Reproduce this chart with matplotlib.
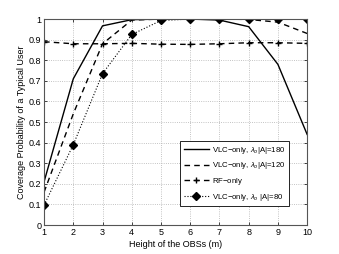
import numpy as np
import matplotlib
matplotlib.use("Agg")
import matplotlib.pyplot as plt

heights = [1, 2, 3, 4, 5, 6, 7, 8, 9, 10]
vlc_180 = [0.21, 0.71, 0.967, 0.997, 1.0, 1.0, 0.995, 0.963, 0.78, 0.44]
vlc_120 = [0.16, 0.54, 0.88, 0.995, 1.0, 1.0, 1.0, 0.998, 0.985, 0.93]
rf_only = [0.89, 0.88, 0.88, 0.882, 0.878, 0.877, 0.88, 0.885, 0.885, 0.882]
vlc_80 = [0.097, 0.39, 0.735, 0.925, 0.993, 1.0, 1.0, 1.0, 1.0, 1.0]

plt.rcParams.update({"font.size": 6.5, "font.family": "Liberation Sans",
                     "mathtext.fontset": "custom", "mathtext.rm": "Liberation Sans",
                     "mathtext.it": "Liberation Sans:italic"})

fig = plt.figure(figsize=(3.39, 2.54), dpi=100)
ax = fig.add_axes([0.130, 0.114, 0.776, 0.811])

ax.plot(heights, vlc_180, "-", color="k", lw=1.0,
        label=r"VLC$-$only, $\lambda_o$|A|=180")
ax.plot(heights, vlc_120, "--", color="k", lw=1.0, dashes=(4, 3),
        label=r"VLC$-$only, $\lambda_o$|A|=120")
ax.plot(heights, rf_only, "--", color="k", lw=1.0, dashes=(4, 3),
        marker="+", ms=5, mew=1.0, label=r"RF$-$only")
ax.plot(heights, vlc_80, ":", color="k", lw=0.8, marker="D", ms=4,
        label=r"VLC$-$only, $\lambda_o$ |A|=80")

ax.set_xlim(1, 10)
ax.set_ylim(0, 1)
ax.set_xticks(heights)
ax.set_yticks(np.arange(0, 1.01, 0.1))
ax.set_yticklabels(["0", "0.1", "0.2", "0.3", "0.4", "0.5", "0.6", "0.7",
                    "0.8", "0.9", "1"])
ax.grid(True, ls=":", color="#b0b0b0", lw=0.6)
ax.tick_params(direction="in", length=2.5, width=0.5, pad=2, top=True, right=True)
for s in ax.spines.values():
    s.set_color("#555555"); s.set_linewidth(0.8)

ax.set_xlabel("Height of the OBSs (m)", labelpad=2)
ax.set_ylabel("Coverage Probability of a Typical User", labelpad=2)

leg = ax.legend(loc="lower right", bbox_to_anchor=(0.93, 0.092), fontsize=5.6,
                fancybox=False, framealpha=1, edgecolor="k",
                handlelength=3.2, handletextpad=0.4, labelspacing=0.6,
                borderpad=0.45, borderaxespad=0)
leg.get_frame().set_linewidth(0.6)

fig.savefig("out.png", dpi=100)
